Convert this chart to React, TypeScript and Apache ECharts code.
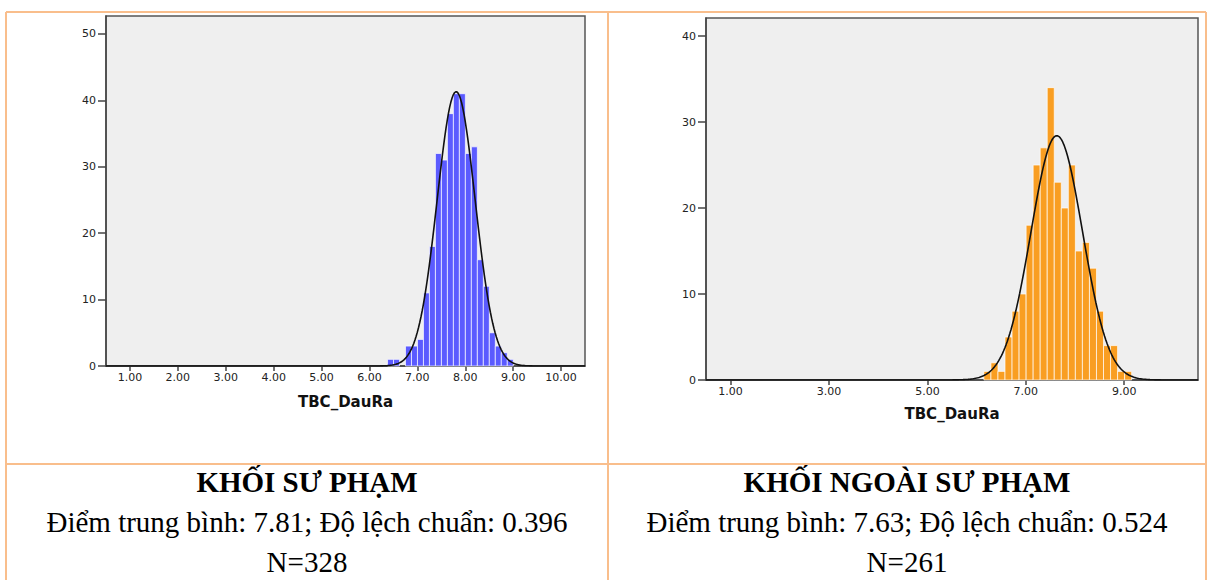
import React, { useEffect, useRef } from "react";
import * as echarts from "echarts";

// ---- Data ----
// Left histogram: KHỐI SƯ PHẠM
const leftBinCenters = [6.44, 6.565, 6.69, 6.815, 6.94, 7.065, 7.19, 7.315, 7.44, 7.565, 7.69, 7.815, 7.94, 8.065, 8.19, 8.315, 8.44, 8.565, 8.69, 8.815, 8.94];
const leftCounts = [1, 1, 0, 3, 3, 4, 11, 18, 32, 31, 38, 41, 41, 32, 33, 16, 12, 5, 3, 2, 1];
const leftBinWidth = 0.125;
const leftMean = 7.81;
const leftSd = 0.396;
const leftN = 328;

// Right histogram: KHỐI NGOÀI SƯ PHẠM
const rightBinCenters = [6.22, 6.363, 6.506, 6.649, 6.792, 6.935, 7.078, 7.221, 7.364, 7.507, 7.65, 7.793, 7.936, 8.079, 8.222, 8.365, 8.508, 8.651, 8.794, 8.937, 9.08];
const rightCounts = [1, 2, 1, 5, 8, 10, 18, 25, 27, 34, 23, 20, 25, 15, 16, 13, 8, 4, 4, 1, 1];
const rightBinWidth = 0.143;
const rightMean = 7.63;
const rightSd = 0.524;
const rightN = 261;

// Tick labels
const leftXTicks = [1, 2, 3, 4, 5, 6, 7, 8, 9, 10];
const rightXTicks = [1, 3, 5, 7, 9];
const leftYTicks = [0, 10, 20, 30, 40, 50];
const rightYTicks = [0, 10, 20, 30, 40];
const axisName = "TBC_DauRa";

// Table texts
const leftTitle = "KHỐI SƯ PHẠM";
const leftStats = "Điểm trung bình: 7.81; Độ lệch chuẩn: 0.396";
const leftNText = "N=328";
const rightTitle = "KHỐI NGOÀI SƯ PHẠM";
const rightStats = "Điểm trung bình: 7.63; Độ lệch chuẩn: 0.524";
const rightNText = "N=261";

// Fitted normal curve from the stated mean / sd / N and the bin width
function normalCurve(mean: number, sd: number, n: number, bw: number, xmin: number, xmax: number) {
  const pts: number[][] = [];
  const steps = 400;
  for (let i = 0; i <= steps; i++) {
    const x = xmin + ((xmax - xmin) * i) / steps;
    const z = (x - mean) / sd;
    const y = (n * bw) / (sd * Math.sqrt(2 * Math.PI)) * Math.exp(-0.5 * z * z);
    pts.push([x, y]);
  }
  return pts;
}

const tickFont = "'DejaVu Sans', Verdana, sans-serif";
const serif = "'Liberation Serif', 'Times New Roman', serif";
const borderColor = "#F9BE8C";

function makeHist(bw: number, color: string, xi: number) {
  return {
    type: "custom",
    xAxisIndex: xi,
    yAxisIndex: xi,
    z: 2,
    renderItem: (params: any, api: any) => {
      const x = api.value(0);
      const y = api.value(1);
      if (!y) return null;
      const p0 = api.coord([x - bw / 2, y]);
      const p1 = api.coord([x + bw / 2, 0]);
      return {
        type: "rect",
        shape: { x: p0[0], y: p0[1], width: p1[0] - p0[0], height: p1[1] - p0[1] },
        style: { fill: color, stroke: "rgba(255,255,255,0.85)", lineWidth: 0.8 },
      };
    },
  };
}

function xAxisCfg(gi: number, ticks: number[], nameGap: number) {
  return {
    type: "value",
    gridIndex: gi,
    min: 0.5,
    max: 10.5,
    name: axisName,
    nameLocation: "middle",
    nameGap,
    nameTextStyle: { fontFamily: tickFont, fontWeight: "bold", fontSize: 15, color: "#111" },
    axisLine: { show: true, lineStyle: { color: "#444", width: 1.5 } },
    axisTick: { show: true, length: 5, customValues: ticks, lineStyle: { color: "#444", width: 1.5 } },
    axisLabel: {
      show: true,
      customValues: ticks,
      formatter: (v: number) => v.toFixed(2),
      fontFamily: tickFont,
      fontSize: 11,
      color: "#222",
      margin: 6,
    },
    splitLine: { show: false },
  };
}

function yAxisCfg(gi: number, max: number, ticks: number[]) {
  return {
    type: "value",
    gridIndex: gi,
    min: 0,
    max,
    axisLine: { show: true, lineStyle: { color: "#444", width: 1.5 } },
    axisTick: { show: true, length: 8, customValues: ticks, lineStyle: { color: "#444", width: 1.5 } },
    axisLabel: {
      show: true,
      customValues: ticks,
      fontFamily: tickFont,
      fontSize: 11,
      color: "#222",
      margin: 10,
    },
    splitLine: { show: false },
  };
}

export default function App() {
  const ref = useRef<HTMLDivElement>(null);
  useEffect(() => {
    if (!ref.current) return;
    const chart = echarts.init(ref.current, null, { renderer: "svg" });
    const leftCurve = normalCurve(leftMean, leftSd, leftN, leftBinWidth, 0.5, 10.5);
    const rightCurve = normalCurve(rightMean, rightSd, rightN, rightBinWidth, 0.5, 10.5);

    const lineStyleBorder = { stroke: borderColor, lineWidth: 2 };
    const textStyle = (x: number, y: number, text: string, bold: boolean) => ({
      type: "text",
      x,
      y,
      style: {
        text,
        fontFamily: serif,
        fontSize: 29,
        fontWeight: bold ? "bold" : "normal",
        fill: "#000",
        align: "center",
        verticalAlign: "middle",
      },
    });

    chart.setOption({
      animation: false,
      backgroundColor: "#ffffff",
      grid: [
        { left: 106, top: 16, width: 479, height: 350, show: true, backgroundColor: "#EFEFEF", borderColor: "#555", borderWidth: 1.5 },
        { left: 706, top: 18, width: 492, height: 362, show: true, backgroundColor: "#EFEFEF", borderColor: "#555", borderWidth: 1.5 },
      ],
      xAxis: [xAxisCfg(0, leftXTicks, 28), xAxisCfg(1, rightXTicks, 26)],
      yAxis: [yAxisCfg(0, 52.7, leftYTicks), yAxisCfg(1, 42.1, rightYTicks)],
      series: [
        { ...makeHist(leftBinWidth, "#5B5BFF", 0), data: leftBinCenters.map((c, i) => [c, leftCounts[i]]) },
        { ...makeHist(rightBinWidth, "#F99E22", 1), data: rightBinCenters.map((c, i) => [c, rightCounts[i]]) },
        {
          type: "line",
          xAxisIndex: 0,
          yAxisIndex: 0,
          data: leftCurve,
          showSymbol: false,
          z: 3,
          lineStyle: { color: "#111", width: 1.6 },
        },
        {
          type: "line",
          xAxisIndex: 1,
          yAxisIndex: 1,
          data: rightCurve,
          showSymbol: false,
          z: 3,
          lineStyle: { color: "#111", width: 1.6 },
        },
      ],
      graphic: [
        { type: "line", shape: { x1: 6, y1: 12, x2: 1206, y2: 12 }, style: lineStyleBorder },
        { type: "line", shape: { x1: 6, y1: 12, x2: 6, y2: 580 }, style: lineStyleBorder },
        { type: "line", shape: { x1: 608, y1: 12, x2: 608, y2: 580 }, style: lineStyleBorder },
        { type: "line", shape: { x1: 1206, y1: 12, x2: 1206, y2: 580 }, style: lineStyleBorder },
        { type: "line", shape: { x1: 6, y1: 464, x2: 1206, y2: 464 }, style: lineStyleBorder },
        textStyle(307, 482, leftTitle, true),
        textStyle(307, 522, leftStats, false),
        textStyle(307, 562, leftNText, false),
        textStyle(907, 482, rightTitle, true),
        textStyle(907, 522, rightStats, false),
        textStyle(907, 562, rightNText, false),
      ],
    });
    return () => chart.dispose();
  }, []);
  return (
    <div
      ref={ref}
      style={{ position: "absolute", left: 0, top: 0, width: 1208, height: 580 }}
    />
  );
}
